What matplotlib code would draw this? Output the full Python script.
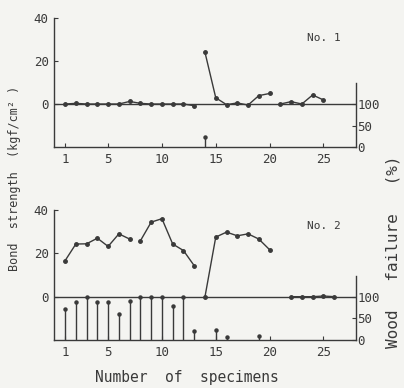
import numpy as np
import matplotlib.pyplot as plt

# bond strength (kgf/cm2) for each specimen, No. 1 and No. 2
spec1 = [1, 2, 3, 4, 5, 6, 7, 8, 9, 10, 11, 12, 13, 14, 15, 16, 17, 18, 19, 20, 21, 22, 23, 24, 25]
bond1 = [0, 0.3, 0, 0, 0, 0, 1.2, 0.3, 0, 0, 0, 0, -0.8, 24, 2.9, -0.3, 0.5, -0.5, 3.9, 4.9, 0, 1.1, 0, 4.2, 1.9]
runs1 = [(1, 13), (14, 20), (21, 25)]

spec2 = [1, 2, 3, 4, 5, 6, 7, 8, 9, 10, 11, 12, 13, 14, 15, 16, 17, 18, 19, 20, 22, 23, 24, 25, 26]
bond2 = [16.6, 24.3, 24.4, 27, 23.2, 29, 26.6, 25.8, 34.4, 36, 24.3, 21.3, 14.3, 0, 27.5, 29.8, 28.1, 29, 26.6, 21.7, 0, 0, 0, 0.3, 0]
runs2 = [(1, 7), (8, 13), (14, 20), (22, 26)]

# wood failure (%)
wf_spec1 = [14]
wf1 = [23]
wf_spec2 = [1, 2, 3, 4, 5, 6, 7, 8, 9, 10, 11, 12, 13, 15, 16, 19]
wf2 = [72, 87, 100, 88, 87, 60, 91, 100, 100, 100, 78, 100, 20, 22, 8, 10]

ink = '#3a3a3a'
bg = '#f4f4f1'
mono = 'DejaVu Sans Mono'


def panel(rect, spec, bond, runs, wf_spec, wf, title, tx, ty):
    ax = fig.add_axes(rect)
    ax.set_facecolor('none')
    ax.set_xlim(0, 28)
    ax.set_ylim(-20, 40)
    ax.spines['top'].set_visible(False)
    ax.spines['right'].set_visible(False)
    for s in ['left', 'bottom']:
        ax.spines[s].set_color(ink)
        ax.spines[s].set_linewidth(1.0)
    ax.set_xticks([1, 5, 10, 15, 20, 25])
    ax.set_yticks([0, 20, 40])
    ax.tick_params(direction='in', length=3, width=0.8, color=ink,
                   labelcolor=ink, labelsize=9, pad=4)
    for lab in ax.get_xticklabels() + ax.get_yticklabels():
        lab.set_family(mono)
    ax.axhline(0, color=ink, lw=1.0)

    spec = np.array(spec)
    bond = np.array(bond)
    for a, b in runs:
        m = (spec >= a) & (spec <= b)
        ax.plot(spec[m], bond[m], color=ink, lw=1.0, marker='o', ms=2.5,
                mec=ink, mfc=ink)

    ax2 = ax.twinx()
    ax2.set_ylim(0, 300)
    for s in ['top', 'left', 'bottom']:
        ax2.spines[s].set_visible(False)
    ax2.spines['right'].set_bounds(0, 148)
    ax2.spines['right'].set_color(ink)
    ax2.spines['right'].set_linewidth(1.0)
    ax2.set_yticks([0, 50, 100])
    ax2.tick_params(direction='in', length=3, width=0.8, color=ink,
                    labelcolor=ink, labelsize=9, pad=1)
    for lab in ax2.get_yticklabels():
        lab.set_family(mono)
    ax2.vlines(wf_spec, 0, wf, color=ink, lw=1.0)
    ax2.plot(wf_spec, wf, ls='none', marker='o', ms=2.2, color=ink)

    ax.text(tx, ty, title, family=mono, fontsize=8, color=ink,
            ha='center', va='center')
    return ax


fig = plt.figure(figsize=(4.04, 3.88), dpi=100, facecolor=bg)
panel([0.1344, 0.6211, 0.746, 0.3325], spec1, bond1, runs1, wf_spec1, wf1,
      'No. 1', 25, 30.8)
panel([0.1344, 0.1237, 0.746, 0.335], spec2, bond2, runs2, wf_spec2, wf2,
      'No. 2', 25, 32.7)

fig.text(0.035, 0.54, 'Bond  strength  (kgf/cm² )', family=mono, fontsize=8.5,
         color=ink, rotation=90, ha='center', va='center')
fig.text(0.973, 0.35, 'Wood   failure   (%)', family=mono, fontsize=11.5,
         color=ink, rotation=90, ha='center', va='center')
fig.text(0.462, 0.026, 'Number  of  specimens', family=mono, fontsize=10.5,
         color=ink, ha='center', va='center')

fig.savefig('out.png', dpi=100, facecolor=bg)
